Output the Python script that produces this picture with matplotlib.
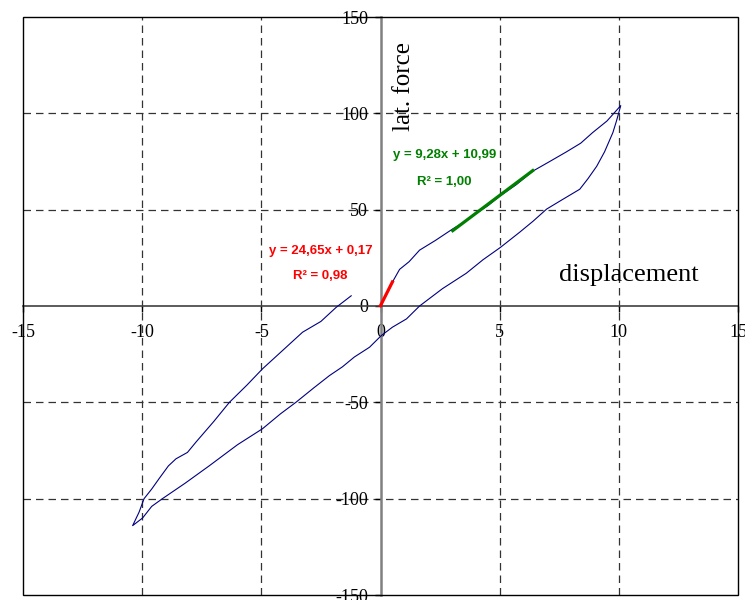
import matplotlib
matplotlib.use("Agg")
import matplotlib.pyplot as plt
from matplotlib.patches import Rectangle

# hysteresis loop (displacement, lateral force)
disp = [0.0, 0.5, 0.8, 1.2, 1.64, 2.3, 3.03, 3.5, 4.0, 4.5, 5.0, 5.7, 6.39, 7.1, 7.8, 8.4, 8.9, 9.5, 10.08,
        9.9, 9.75, 9.4, 9.07, 8.7, 8.36, 7.6, 6.97, 6.4, 5.84, 5.03, 4.3, 3.6, 2.6, 1.64, 1.09, 0.5, 0.03,
        -0.46, -1.1, -1.6, -2.14, -2.8, -3.54, -4.2, -4.95, -6.0, -7.18, -8.2, -9.15, -9.6, -9.98, -10.4,
        -10.13, -9.92, -9.6, -9.29, -8.9, -8.58, -8.1, -7.74, -7.0, -6.34, -5.6, -4.95, -4.1, -3.27, -2.5,
        -1.86, -1.23]
force = [0.0, 12.4, 19.0, 23.0, 29.0, 34.0, 40.0, 43.5, 48.0, 52.0, 57.0, 63.0, 70.0, 75.0, 80.0, 84.5, 90.0, 96.0, 104.0,
         96.0, 90.0, 80.0, 72.5, 66.0, 60.6, 55.0, 50.3, 44.0, 38.3, 30.4, 24.0, 17.0, 9.0, 0.0, -6.7, -11.0, -15.4,
         -21.4, -26.5, -31.6, -36.1, -42.5, -49.9, -56.0, -63.7, -72.0, -82.9, -92.0, -100.0, -104.0, -110.0, -114.0,
         -107.0, -100.0, -95.0, -89.6, -83.0, -79.3, -76.0, -70.6, -60.0, -50.0, -41.0, -32.6, -23.0, -13.6, -8.0,
         -0.7, 5.3]

# trendlines
red_x = [0.0, 0.5]
red_slope, red_icpt = 24.65, 0.17
green_x = [3.03, 6.39]
green_slope, green_icpt = 9.28, 10.99

xticks = [-15, -10, -5, 0, 5, 10, 15]
yticks = [-150, -100, -50, 0, 50, 100, 150]

serif = ["Liberation Serif", "DejaVu Serif"]
sans = ["Liberation Sans", "DejaVu Sans"]

fig = plt.figure(figsize=(7.45, 6), dpi=100)
ax = fig.add_axes([23 / 745, 5 / 600, 715 / 745, 578 / 600])
ax.set_xlim(-15, 15)
ax.set_ylim(-150, 150)

# dashed grid
for gx in xticks[1:-1]:
    if gx != 0:
        ax.axvline(gx, color="#333333", lw=0.9, ls=(0, (6, 4)), zorder=1)
for gy in yticks[1:-1]:
    if gy != 0:
        ax.axhline(gy, color="#333333", lw=0.9, ls=(0, (6, 4)), zorder=1)

# excel-style axes through the origin
ax.spines["left"].set_position("zero")
ax.spines["bottom"].set_position("zero")
ax.spines["left"].set_color("#808080")
ax.spines["left"].set_linewidth(1.8)
ax.spines["bottom"].set_color("#404040")
ax.spines["bottom"].set_linewidth(1.2)
ax.spines["top"].set_visible(False)
ax.spines["right"].set_visible(False)
ax.add_patch(Rectangle((0, 0), 1, 1, transform=ax.transAxes, fill=False,
                       edgecolor="black", lw=1.0, clip_on=False, zorder=5))

ax.set_xticks(xticks)
ax.set_yticks(yticks)
ax.set_xticklabels([str(t) for t in xticks], fontfamily=serif, fontsize=13)
ax.set_yticklabels([str(t) for t in yticks], fontfamily=serif, fontsize=13)
ax.tick_params(axis="both", direction="out", length=4, width=1, color="black")
ax.tick_params(axis="x", pad=9)
ax.tick_params(axis="y", pad=5)
for lab in ax.get_xticklabels() + ax.get_yticklabels():
    lab.set_clip_on(False)

ax.plot(disp, force, color="#000080", lw=0.8, zorder=3)
ax.plot(red_x, [red_slope * v + red_icpt for v in red_x], color="#ff0000", lw=2.3, zorder=4)
ax.plot(green_x, [green_slope * v + green_icpt for v in green_x], color="#008000", lw=2.3, zorder=4)

eq_style = dict(family=sans, weight="bold", fontsize=9.5, ha="center", va="center")
ax.text(-2.52, 28.5, "y = 24,65x + 0,17", color="#ff0000", **eq_style)
ax.text(-2.52, 15.5, "R² = 0,98", color="#ff0000", **eq_style)
ax.text(2.68, 78.2, "y = 9,28x + 10,99", color="#008000", **eq_style)
ax.text(2.68, 64.2, "R² = 1,00", color="#008000", **eq_style)

ax.text(1.0, 114, "lat. force", rotation=90, family=serif, fontsize=18, ha="center", va="center")
ax.text(10.4, 16, "displacement", family=serif, fontsize=19, ha="center", va="center")

fig.savefig("out.png", dpi=100)
